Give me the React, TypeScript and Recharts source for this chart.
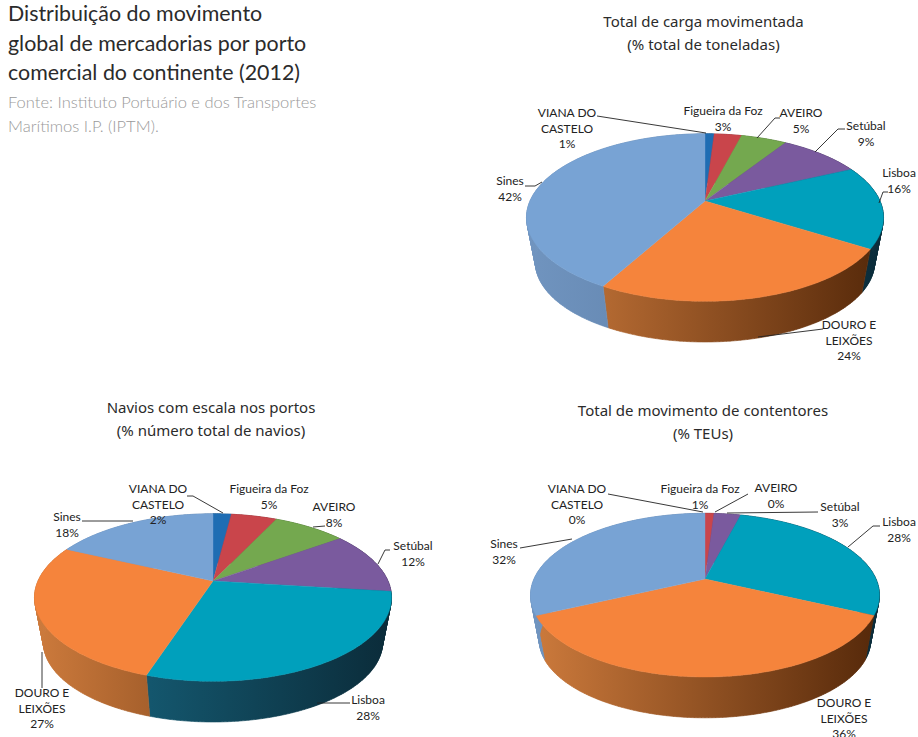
import { Pie, PieChart } from 'recharts';

const CATEGORIES = ['VIANA DO CASTELO', 'Figueira da Foz', 'AVEIRO', 'Setúbal', 'Lisboa', 'DOURO E LEIXÕES', 'Sines'];
const CATEGORY_LINES = [['VIANA DO', 'CASTELO'], ['Figueira da Foz'], ['AVEIRO'], ['Setúbal'], ['Lisboa'], ['DOURO E', 'LEIXÕES'], ['Sines']];

const CARGA = [1, 3, 5, 9, 16, 24, 42];
const NAVIOS = [2, 5, 8, 12, 28, 27, 18];
const TEUS = [0, 1, 0, 3, 28, 36, 32];

const TOP_COLORS = ['#1f6db3', '#c9454b', '#74a84f', '#7a5a9e', '#00a0bc', '#f5843c', '#78a3d4'];
const SIDE_LIGHT = ['#1a5a95', '#a83a3f', '#5f8a40', '#644a82', '#186a85', '#cc7a3c', '#7094bf'];
const SIDE_DARK = ['#0e3a60', '#6e2528', '#3c5828', '#3e2e52', '#0b2c3a', '#56290a', '#4f6f96'];

const toRows = (values: number[]) => CATEGORIES.map((name, i) => ({ name, value: values[i] }));

// perspective of the tilted pie
const TILT = 0.1976;
const SQUASH = 0.46;
const WALL_SCALE = 0.95;
const WALL_DROP = 45.7;

// label layout per pie, one row per category: centre x, first line y, leader line
type LabelSpot = [number, number, string];

const CARGA_SPOTS: LabelSpot[] = [
  [567, 113, '597,116 706,133'],
  [723, 111, ''],
  [801, 113, '780,118 775,118 757,138'],
  [866, 126, '845,129 838,129 815,152'],
  [899, 173, '888,192 883,192 879,203'],
  [849, 325, '823,329 758,337'],
  [510, 181, '525,186 535,186 542,182'],
];
const NAVIOS_SPOTS: LabelSpot[] = [
  [158, 489, '187,496 193,496 223,513'],
  [269, 489, ''],
  [334, 507, '325,526 313,527'],
  [413, 546, '390,550 385,550 378,564'],
  [368, 700, '350,703 317,703'],
  [42, 693, '42,688 42,652'],
  [67, 517, '82,521 133,521'],
];
const TEUS_SPOTS: LabelSpot[] = [
  [577, 489, '608,494 703,512'],
  [700, 489, ''],
  [776, 488, '748,494 715,512'],
  [840, 507, '818,512 727,513'],
  [899, 522, '880,526 873,526 848,547'],
  [844, 703, ''],
  [504, 544, '520,548 572,539'],
];

const project = (p: any, deg: number, scale = 1, drop = 0) => {
  const a = (deg * Math.PI) / 180;
  const w = 1 + TILT * Math.sin(a);
  const x = p.cx + (scale * p.outerRadius * Math.cos(a)) / w;
  const y = p.cy + drop - (scale * p.outerRadius * SQUASH * Math.sin(a)) / w;
  return `${x.toFixed(2)},${y.toFixed(2)}`;
};

const angles = (p: any) => {
  const steps = Math.max(2, Math.ceil(Math.abs(p.startAngle - p.endAngle)));
  return Array.from({ length: steps + 1 }, (_, i) => p.startAngle + ((p.endAngle - p.startAngle) * i) / steps);
};

const TopFace = (p: any) => {
  if (p.startAngle === p.endAngle) return <g />;
  const d = `M${p.cx},${p.cy} L${angles(p).map((a) => project(p, a)).join(' L')} Z`;
  return <path d={d} fill={p.fill} stroke={p.fill} strokeWidth={0.4} />;
};

const wallFace = (chart: string) => (p: any) => {
  if (p.startAngle === p.endAngle) return <g />;
  const id = `wall-${chart}-${p.index}`;
  const as = angles(p);
  // small strips so the outline follows the tangent between rim and base
  const d = as
    .slice(1)
    .map((a, i) => {
      const b = as[i];
      return `M${project(p, b)} L${project(p, a)} L${project(p, a, WALL_SCALE, WALL_DROP)} L${project(p, b, WALL_SCALE, WALL_DROP)} Z`;
    })
    .join(' ');
  return (
    <g>
      <defs>
        <linearGradient id={id} gradientUnits="userSpaceOnUse" x1={p.cx - p.outerRadius} x2={p.cx + p.outerRadius} y1={0} y2={0}>
          <stop offset="0" stopColor={SIDE_LIGHT[p.index]} />
          <stop offset="1" stopColor={SIDE_DARK[p.index]} />
        </linearGradient>
      </defs>
      <path d={d} fill={`url(#${id})`} stroke={`url(#${id})`} strokeWidth={0.6} />
    </g>
  );
};

const sliceLabel = (spots: LabelSpot[]) => (p: any) => {
  const [x, y, leader] = spots[p.index];
  const lines = [...CATEGORY_LINES[p.index], `${p.value}%`];
  return (
    <g key={p.index}>
      {leader && <polyline points={leader} fill="none" stroke="#222" strokeWidth={0.9} />}
      <text x={x} y={y} textAnchor="middle" fontFamily="Lato" fontSize={12} fill="#222">
        {lines.map((t, i) => (
          <tspan key={t} x={x} y={y + 4 + i * 15.5}>
            {t}
          </tspan>
        ))}
      </text>
    </g>
  );
};

const Slices = (chart: string, values: number[], spots: LabelSpot[], cx: number, cy: number, r: number) => {
  const rows = toRows(values).map((row, i) => ({ ...row, fill: TOP_COLORS[i] }));
  const common = { data: rows, dataKey: 'value', nameKey: 'name', cx, cy, outerRadius: r, startAngle: 90, endAngle: -270, isAnimationActive: false };
  return [
    <Pie key={`${chart}-wall`} {...common} shape={wallFace(chart)} label={false} legendType="none" />,
    <Pie key={`${chart}-top`} {...common} shape={TopFace} label={sliceLabel(spots)} labelLine={false} />,
  ];
};

const panelTitle = {
  position: 'absolute',
  textAlign: 'center',
  fontFamily: 'Noto Sans',
  fontSize: 15,
  lineHeight: '23px',
  color: '#2b2b2b',
  whiteSpace: 'nowrap',
  transform: 'translateX(-50%)',
} as const;

export default function App() {
  return (
    <div style={{ position: 'absolute', left: 0, top: 0, width: 918, height: 737, overflow: 'hidden', background: '#fff' }}>
      <div style={{ position: 'absolute', left: 8, top: -1, fontFamily: 'Lato', fontSize: 21.4, lineHeight: '29.5px', color: '#2b2b2b', whiteSpace: 'nowrap' }}>
        Distribuição do movimento
        <br />
        global de mercadorias por porto
        <br />
        comercial do continente (2012)
      </div>
      <div style={{ position: 'absolute', left: 8, top: 90, fontFamily: 'Lato', fontWeight: 300, fontSize: 16.5, lineHeight: '24px', color: '#9a9a9a', whiteSpace: 'nowrap' }}>
        Fonte: Instituto Portuário e dos Transportes
        <br />
        Marítimos I.P. (IPTM).
      </div>
      <div style={{ ...panelTitle, left: 703.5, top: 10 }}>
        Total de carga movimentada
        <br />
        (% total de toneladas)
      </div>
      <div style={{ ...panelTitle, left: 211, top: 396 }}>
        Navios com escala nos portos
        <br />
        (% número total de navios)
      </div>
      <div style={{ ...panelTitle, left: 703, top: 399 }}>
        Total de movimento de contentores
        <br />
        (% TEUs)
      </div>
      <PieChart width={918} height={737} margin={{ top: 0, right: 0, bottom: 0, left: 0 }}>
        {Slices('carga', CARGA, CARGA_SPOTS, 705, 201, 175)}
        {Slices('navios', NAVIOS, NAVIOS_SPOTS, 213, 581, 175)}
        {Slices('teus', TEUS, TEUS_SPOTS, 705, 579, 171)}
      </PieChart>
    </div>
  );
}
